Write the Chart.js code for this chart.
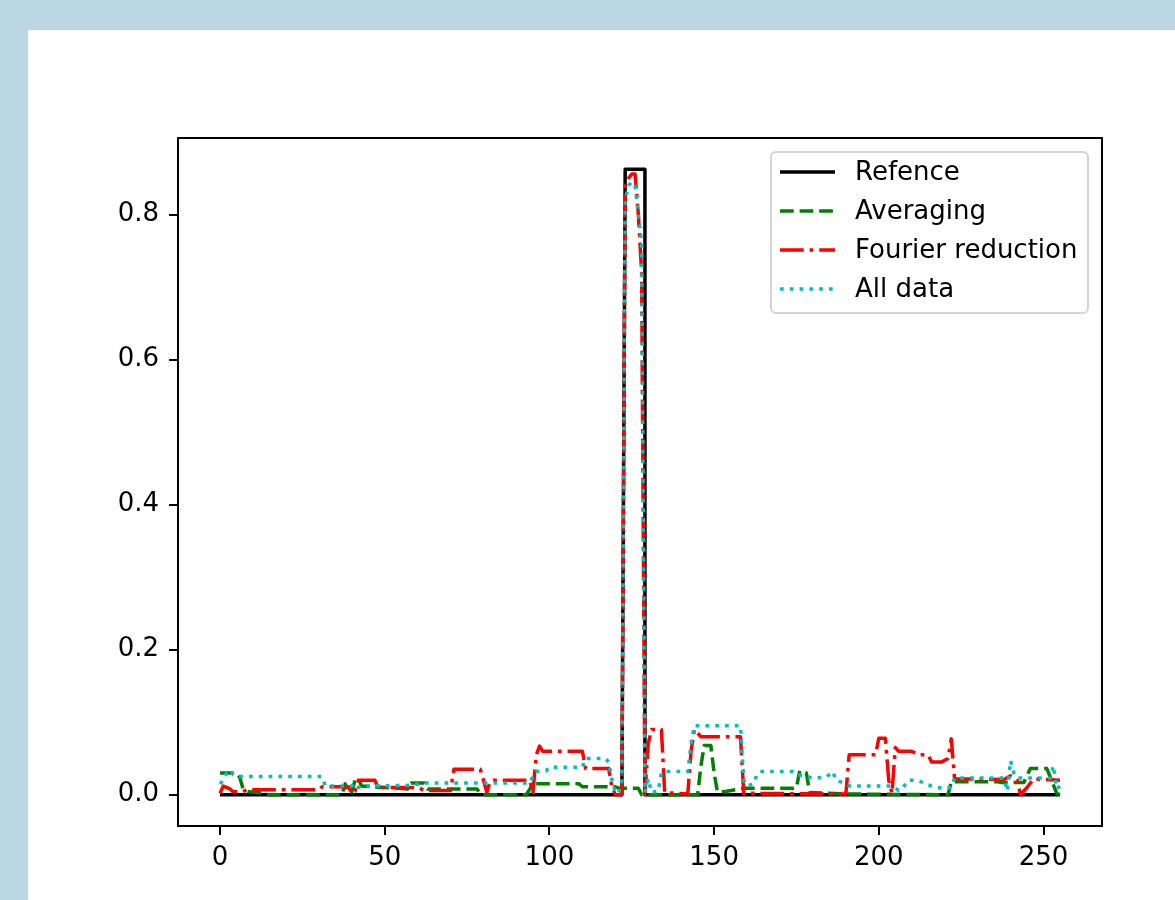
<!DOCTYPE html>
<html>
<head>
<meta charset="utf-8">
<script src="https://cdn.jsdelivr.net/npm/chart.js@4/dist/chart.umd.min.js"></script>
<style>
  html, body { margin: 0; padding: 0; background: #bcd7e4; overflow: hidden; }
  #fig { position: absolute; left: 28px; top: 30px; width: 1147px; height: 870px; background: #fff; }
</style>
</head>
<body>
<div id="fig"><canvas id="lossChart" width="1147" height="870"></canvas></div>
<script>
// * breakpoints (index, value)
const refX = [0, 122, 123, 129, 129, 255];
const refY = [0, 0, 0.8625, 0.8625, 0, 0];

const avgX = [0, 5, 6, 7, 9, 13, 14, 37, 38, 39, 40, 41, 42, 43, 50, 57, 58, 62, 63, 78, 79, 80, 93, 95, 109, 110, 120, 121, 127, 128,
  145, 146, 147, 149, 150, 151, 153, 159, 174, 175, 176, 178, 179, 190, 221, 222, 236, 237, 244, 246, 251, 252, 254, 255];
const avgY = [0.03, 0.03, 0.024, 0.008, 0.004, 0.002, 0, 0, 0.015, 0.002, 0.004, 0.02, 0.022, 0.012, 0.01, 0.008, 0.016, 0.016, 0.008, 0.008, 0.002, 0, 0, 0.015, 0.015, 0.011, 0.011, 0.009, 0.009, 0,
  0, 0.04, 0.068, 0.068, 0.03, 0.004, 0.004, 0.009, 0.009, 0.01, 0.033, 0.03, 0.003, 0.001, 0, 0.018, 0.018, 0.017, 0.017, 0.036, 0.036, 0.025, 0.002, 0];

const fourX = [0, 1, 3, 4, 7, 8, 30, 31, 39, 40, 41, 42, 47, 48, 60, 62, 70, 71, 79, 80, 81, 82, 83, 94, 95, 96, 97, 98, 110, 111, 118, 119, 120, 122,
  123, 124, 125, 126, 127, 128, 129, 130, 131, 134, 135, 142, 143, 144, 145, 146, 158, 159, 190, 191, 199, 200, 202, 203, 204, 205, 206, 210, 212,
  215, 216, 219, 221, 222, 223, 238, 240, 242, 243, 245, 247, 255];
const fourY = [0.002, 0.012, 0.008, 0.004, 0.004, 0.007, 0.007, 0.011, 0.011, 0.002, 0.005, 0.02, 0.02, 0.01, 0.01, 0.006, 0.006, 0.035, 0.035, 0.02, 0.003, 0.018, 0.02, 0.02, 0.003, 0.055, 0.067, 0.06, 0.06, 0.036, 0.036, 0.01, 0, 0,
  0.84, 0.85, 0.856, 0.856, 0.8, 0.72, 0, 0.07, 0.09, 0.09, 0.003, 0.001, 0.06, 0.09, 0.085, 0.08, 0.08, 0.002, 0.001, 0.055, 0.055, 0.078, 0.078, 0.02, 0.002, 0.065, 0.06, 0.06, 0.055,
  0.055, 0.045, 0.045, 0.05, 0.077, 0.022, 0.021, 0.026, 0.02, 0, 0.01, 0.022, 0.02];

const allX = [0, 1, 2, 3, 4, 5, 31, 32, 40, 41, 42, 44, 58, 62, 94, 95, 96, 99, 100, 110, 111, 117, 118, 119, 120, 121, 122,
  123, 124, 125, 126, 127, 128, 129, 130, 131, 133, 134, 135, 142, 143, 144, 158, 159, 160, 162, 163, 164, 174, 175, 180, 184, 186, 187, 190,
  191, 204, 206, 207, 209, 212, 214, 216, 218, 220, 222, 223, 238, 239, 240, 241, 242, 252, 253, 254, 255];
const allY = [0.015, 0.02, 0.03, 0.034, 0.028, 0.025, 0.025, 0.012, 0.012, 0.016, 0.01, 0.012, 0.013, 0.016, 0.016, 0.025, 0.032, 0.033, 0.038, 0.038, 0.05, 0.05, 0.045, 0.02, 0.003, 0.002, 0.02,
  0.82, 0.84, 0.845, 0.84, 0.8, 0.76, 0.003, 0.022, 0.003, 0.005, 0.03, 0.032, 0.032, 0.07, 0.095, 0.095, 0.02, 0.012, 0.015, 0.028, 0.032, 0.032, 0.028, 0.023, 0.024, 0.032, 0.02, 0.015,
  0.012, 0.012, 0.006, 0.008, 0.02, 0.02, 0.015, 0.012, 0.01, 0.008, 0.01, 0.023, 0.023, 0.005, 0.047, 0.03, 0.023, 0.023, 0.04, 0.008, 0.012];

const seriesNames = ["Refence", "Averaging", "Fourier reduction", "All data"];
const xTicks = [0, 50, 100, 150, 200, 250];
const yTicks = [0, 0.2, 0.4, 0.6, 0.8];

const lw = 3.5;
const font = { family: "DejaVu Sans", size: 26 };

function pts(xs, ys) {
  return xs.map((x, i) => ({ x: x, y: ys[i] }));
}

// ? legend + frame like matplotlib
const mplBox = {
  id: "mplBox",
  afterDraw(chart) {
    const { ctx, chartArea: a } = chart;
    ctx.save();
    ctx.strokeStyle = "#000";
    ctx.lineWidth = 2;
    ctx.strokeRect(a.left, a.top, a.right - a.left, a.bottom - a.top);

    const w = 317, h = 161;
    const lx = a.right - 14 - w, ly = a.top + 14;
    ctx.beginPath();
    ctx.roundRect(lx, ly, w, h, 5);
    ctx.fillStyle = "rgba(255,255,255,0.8)";
    ctx.fill();
    ctx.strokeStyle = "#d4d4d4";
    ctx.lineWidth = 2;
    ctx.stroke();

    ctx.font = font.size + "px " + font.family;
    ctx.textBaseline = "middle";
    chart.data.datasets.forEach((ds, i) => {
      const yy = ly + 20 + i * 39;
      ctx.beginPath();
      ctx.setLineDash(ds.borderDash || []);
      ctx.strokeStyle = ds.borderColor;
      ctx.lineWidth = lw;
      ctx.moveTo(lx + 9, yy);
      ctx.lineTo(lx + 64, yy);
      ctx.stroke();
      ctx.setLineDash([]);
      ctx.fillStyle = "#000";
      ctx.fillText(ds.label, lx + 84, yy + 1);
    });
    ctx.restore();
  },
};

const lineBase = {
  pointRadius: 0,
  borderWidth: lw,
  tension: 0,
  fill: false,
  borderJoinStyle: "round",
};

new Chart(document.getElementById("lossChart").getContext("2d"), {
  type: "line",
  data: {
    datasets: [
      { ...lineBase, label: seriesNames[0], data: pts(refX, refY), borderColor: "#000000", order: 4 },
      { ...lineBase, label: seriesNames[1], data: pts(avgX, avgY), borderColor: "#008000", borderDash: [13.7, 5.9], order: 3 },
      { ...lineBase, label: seriesNames[2], data: pts(fourX, fourY), borderColor: "#ff0000", borderDash: [23.7, 5.9, 3.7, 5.9], order: 2 },
      { ...lineBase, label: seriesNames[3], data: pts(allX, allY), borderColor: "#00bfbf", borderDash: [3.7, 6.1], order: 1 },
    ],
  },
  options: {
    responsive: false,
    animation: false,
    layout: { padding: { top: 108, right: 73, left: 0, bottom: 0 } },
    plugins: { legend: { display: false }, tooltip: { enabled: false } },
    scales: {
      x: {
        type: "linear",
        min: -12.75,
        max: 267.75,
        afterBuildTicks: (s) => { s.ticks = xTicks.map((v) => ({ value: v })); },
        afterFit: (s) => { s.height = 74; },
        grid: { drawOnChartArea: false, tickLength: 9, color: "#000", lineWidth: 2 },
        border: { display: false },
        ticks: { color: "#000", font: font, padding: 8, maxRotation: 0, autoSkip: false, callback: (v) => String(v) },
      },
      y: {
        type: "linear",
        min: -0.043125,
        max: 0.905625,
        afterBuildTicks: (s) => { s.ticks = yTicks.map((v) => ({ value: v })); },
        afterFit: (s) => { s.width = 150; },
        grid: { drawOnChartArea: false, tickLength: 9, color: "#000", lineWidth: 2 },
        border: { display: false },
        ticks: { color: "#000", font: font, padding: 10, autoSkip: false, callback: (v) => v.toFixed(1) },
      },
    },
  },
  plugins: [mplBox],
});
</script>
</body>
</html>
